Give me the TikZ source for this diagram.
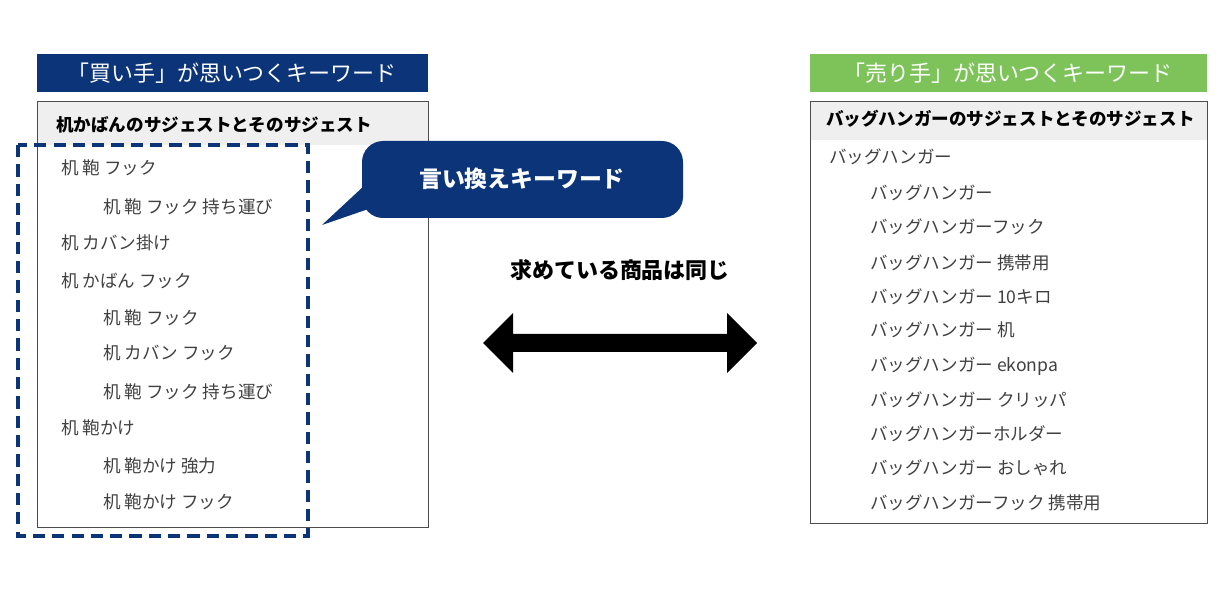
\documentclass[tikz,border=0pt]{standalone}
\usepackage{fontspec}
\setmainfont{Noto Sans CJK JP}
\usetikzlibrary{positioning}
\definecolor{navy}{HTML}{0B3479}
\definecolor{leaf}{HTML}{7DC35A}
\definecolor{band}{HTML}{EFEFEF}
\tikzset{
  titlebar/.style={font=\fontsize{12.5}{14}\selectfont, text=white, anchor=center},
  item/.style={anchor=west, font=\fontsize{10}{12}\selectfont, text=black!75},
  head/.style={anchor=west, font=\fontsize{10}{12}\selectfont\bfseries}
}
\begin{document}
\begin{tikzpicture}[x=0.02cm, y=-0.02cm]
    \useasboundingbox (0, 0) rectangle (1230, 590);

    % left side
    \fill [navy] (37, 54) rectangle (428, 92);
    \node [titlebar] (buytitle) at (232, 73) {「買い手」が思いつくキーワード};
    \fill [band] (37, 101) rectangle (428, 145);
    \draw [black!70] (37, 101) rectangle (428, 527);
    \node [head] (buyhead) at (50, 125) {机かばんのサジェストとそのサジェスト};

    \foreach \x/\y/\t [count=\i] in {55/168/机 鞄 フック, 97/207/机 鞄 フック 持ち運び,
        55/243/机 カバン掛け, 55/281/机 かばん フック, 97/318/机 鞄 フック,
        97/353/机 カバン フック, 97/392/机 鞄 フック 持ち運び, 55/428/机 鞄かけ,
        97/466/机 鞄かけ 強力, 97/502/机 鞄かけ フック}
        \node [item] (buy\i) at (\x, \y) {\t};

    \draw [navy, line width=2.2pt, dash pattern=on 7pt off 4pt] (18, 145) rectangle (308, 536);

    % callout
    \fill [navy] (380, 205) -- (322, 225) -- (365, 185) -- cycle;
    \fill [navy, rounded corners=12pt] (362, 141) rectangle (683, 218);
    \node [font=\fontsize{13}{15}\selectfont\bfseries, text=white] (callout) at (522, 179) {言い換えキーワード};

    % middle
    \node [font=\fontsize{12.5}{14}\selectfont\bfseries] (same) at (620, 270) {求めている商品は同じ};
    \fill [black] (483, 343) -- (513, 313) -- (513, 334) -- (727, 334) -- (727, 313)
        -- (757, 343) -- (727, 373) -- (727, 352) -- (513, 352) -- (513, 373) -- cycle;

    % right side
    \fill [leaf] (810, 54) rectangle (1207, 92);
    \node [titlebar] (selltitle) at (1008, 73) {「売り手」が思いつくキーワード};
    \fill [band] (810, 101) rectangle (1207, 140);
    \draw [black!70] (810, 101) rectangle (1207, 523);
    \node [head] (sellhead) at (820, 119) {バッグハンガーのサジェストとそのサジェスト};

    \foreach \x/\y/\t [count=\i] in {823/157/バッグハンガー, 864/193/バッグハンガー,
        864/227/バッグハンガーフック, 864/263/バッグハンガー 携帯用, 864/297/バッグハンガー 10キロ,
        864/330/バッグハンガー 机, 864/366/バッグハンガー ekonpa, 864/400/バッグハンガー クリッパ,
        864/434/バッグハンガーホルダー, 864/468/バッグハンガー おしゃれ, 864/503/バッグハンガーフック 携帯用}
        \node [item] (sell\i) at (\x, \y) {\t};
\end{tikzpicture}
\end{document}
